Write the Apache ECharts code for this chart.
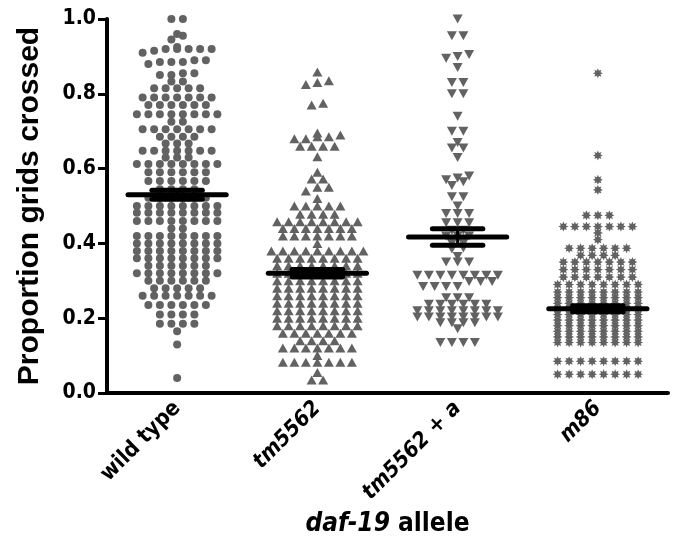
<!DOCTYPE html>
<html lang="en">
<head>
  <meta charset="UTF-8">
  <title>daf-19 grids crossed</title>
  <script src="https://cdn.jsdelivr.net/npm/echarts@6/dist/echarts.min.js"></script>
  <style>
    html, body { margin: 0; padding: 0; background: #fff; }
    #main { width: 681px; height: 548px; }
  </style>
</head>
<body>
  <div id="main"></div>
  <script>
    // categories and values
    var alleles = ['wild type', 'tm5562', 'tm5562 + a', 'm86'];

    var wildType = [
      1.0, 1.0,
      0.96, 0.955, 0.945,
      0.925, 0.92, 0.92, 0.92, 0.92, 0.92, 0.915, 0.91,
      0.89, 0.885, 0.885, 0.89, 0.88, 0.885,
      0.855, 0.85, 0.85, 0.855,
      0.833, 0.833,
      0.815, 0.815, 0.815, 0.815, 0.815,
      0.79, 0.79, 0.79, 0.79, 0.79, 0.79, 0.79,
      0.77, 0.77, 0.77, 0.77, 0.77, 0.77,
      0.745, 0.745, 0.745, 0.745, 0.745, 0.745, 0.745, 0.745,
      0.725, 0.725,
      0.705, 0.705, 0.705, 0.705, 0.705, 0.705, 0.705,
      0.685, 0.685, 0.685, 0.685,
      0.667, 0.667, 0.667,
      0.648, 0.648, 0.648, 0.648, 0.648, 0.648, 0.648,
      0.63, 0.63, 0.63,
      0.612, 0.612, 0.612, 0.612, 0.612, 0.612, 0.612, 0.612,
      0.59, 0.59, 0.59, 0.59, 0.59, 0.59,
      0.567, 0.567, 0.567, 0.567, 0.567, 0.567,
      0.545, 0.545, 0.545, 0.545,
      0.522, 0.522, 0.522, 0.522, 0.522, 0.522,
      0.50, 0.50, 0.50, 0.50, 0.50, 0.50, 0.50, 0.50,
      0.482, 0.482, 0.482, 0.482, 0.482, 0.482, 0.482, 0.482,
      0.46, 0.46, 0.46, 0.46, 0.46, 0.46, 0.46, 0.46,
      0.44, 0.44,
      0.42, 0.42, 0.42, 0.42, 0.42, 0.42, 0.42, 0.42,
      0.40, 0.40, 0.40, 0.40, 0.40, 0.40, 0.40, 0.40,
      0.38, 0.38, 0.38, 0.38, 0.38, 0.38, 0.38, 0.38,
      0.36, 0.36, 0.36, 0.36, 0.36, 0.36, 0.36, 0.36,
      0.34, 0.34, 0.34, 0.34, 0.34, 0.34,
      0.32, 0.32, 0.32, 0.32, 0.32, 0.32, 0.32, 0.32,
      0.30, 0.30, 0.30, 0.30, 0.30, 0.30,
      0.28, 0.28, 0.28, 0.28, 0.28,
      0.26, 0.26, 0.26, 0.26, 0.26, 0.26, 0.26,
      0.235, 0.235, 0.235, 0.235, 0.235, 0.235,
      0.21, 0.21, 0.21, 0.21,
      0.185, 0.185, 0.185, 0.185,
      0.165, 0.13, 0.04
    ];

    var tm5562 = [
      0.858,
      0.835, 0.83, 0.825,
      0.775, 0.77,
      0.695, 0.69, 0.685, 0.685, 0.68, 0.68,
      0.66, 0.66, 0.66, 0.66,
      0.632, 0.59, 0.572, 0.572,
      0.55, 0.55, 0.54, 0.52,
      0.50, 0.50, 0.50, 0.50, 0.50,
      0.478, 0.478, 0.478, 0.478,
      0.458, 0.458, 0.458, 0.458, 0.458, 0.458, 0.458, 0.458,
      0.44, 0.44, 0.44, 0.44, 0.44, 0.44, 0.44,
      0.42, 0.42, 0.42, 0.42, 0.42, 0.42, 0.42,
      0.40,
      0.38, 0.38, 0.38, 0.38, 0.38, 0.38, 0.38, 0.38, 0.38,
      0.36, 0.36, 0.36, 0.36, 0.36, 0.36, 0.36, 0.36,
      0.34, 0.34, 0.34, 0.34, 0.34, 0.34, 0.34, 0.34,
      0.32, 0.32, 0.32, 0.32, 0.32, 0.32, 0.32, 0.32,
      0.30, 0.30, 0.30, 0.30, 0.30, 0.30, 0.30, 0.30,
      0.28, 0.28, 0.28, 0.28, 0.28, 0.28, 0.28, 0.28,
      0.26, 0.26, 0.26, 0.26, 0.26, 0.26, 0.26, 0.26,
      0.24, 0.24, 0.24, 0.24, 0.24, 0.24, 0.24, 0.24,
      0.22, 0.22, 0.22, 0.22, 0.22, 0.22, 0.22, 0.22,
      0.20, 0.20, 0.20, 0.20, 0.20, 0.20, 0.20, 0.20,
      0.18, 0.18, 0.18, 0.18, 0.18, 0.18, 0.18, 0.18,
      0.16, 0.16, 0.16, 0.16, 0.16, 0.16, 0.16,
      0.14, 0.14, 0.14, 0.14,
      0.12, 0.12, 0.12, 0.12, 0.12, 0.12, 0.12,
      0.10,
      0.082, 0.082, 0.082, 0.082, 0.082, 0.082, 0.082,
      0.055, 0.035, 0.035
    ];

    var tm5562a = [
      1.0,
      0.955, 0.955,
      0.905, 0.90, 0.895,
      0.87,
      0.83, 0.83,
      0.80, 0.80,
      0.74,
      0.70, 0.70,
      0.67, 0.655, 0.655,
      0.63,
      0.58, 0.575, 0.57, 0.565,
      0.555,
      0.525, 0.525,
      0.50,
      0.48, 0.48, 0.48,
      0.455, 0.455, 0.455,
      0.435, 0.435,
      0.42, 0.42, 0.42,
      0.40, 0.40,
      0.388, 0.385,
      0.365,
      0.35, 0.35, 0.35,
      0.315, 0.315, 0.315, 0.315, 0.315, 0.315, 0.315, 0.315,
      0.298, 0.298, 0.298,
      0.285, 0.285, 0.285, 0.285,
      0.255, 0.255, 0.255,
      0.237, 0.237, 0.237, 0.237, 0.237, 0.237,
      0.22, 0.22, 0.22, 0.22, 0.22, 0.22, 0.22, 0.22,
      0.203, 0.203, 0.203, 0.203, 0.203, 0.203, 0.203, 0.203,
      0.188, 0.188, 0.188, 0.188,
      0.172,
      0.135, 0.135, 0.135, 0.135
    ];

    var m86 = [
      0.855, 0.635, 0.57, 0.543,
      0.475, 0.475, 0.475,
      0.445, 0.445, 0.445, 0.445, 0.445, 0.445, 0.445,
      0.428, 0.41,
      0.387, 0.387, 0.387, 0.387, 0.387, 0.387,
      0.368, 0.368, 0.368, 0.368,
      0.35, 0.35, 0.35, 0.35, 0.35, 0.35, 0.35,
      0.33, 0.33, 0.33, 0.33, 0.33, 0.33, 0.33,
      0.31, 0.31, 0.31, 0.31, 0.31, 0.31, 0.31,
      0.29, 0.29, 0.29, 0.29, 0.29, 0.29, 0.29, 0.29,
      0.27, 0.27, 0.27, 0.27, 0.27, 0.27, 0.27, 0.27,
      0.255, 0.255, 0.255, 0.255, 0.255, 0.255, 0.255, 0.255,
      0.24, 0.24, 0.24, 0.24, 0.24, 0.24, 0.24, 0.24,
      0.225, 0.225, 0.225, 0.225, 0.225, 0.225, 0.225, 0.225,
      0.21, 0.21, 0.21, 0.21, 0.21, 0.21, 0.21, 0.21,
      0.195, 0.195, 0.195, 0.195, 0.195, 0.195, 0.195, 0.195,
      0.18, 0.18, 0.18, 0.18, 0.18, 0.18, 0.18, 0.18,
      0.165, 0.165, 0.165, 0.165, 0.165, 0.165, 0.165, 0.165,
      0.15, 0.15, 0.15, 0.15, 0.15, 0.15, 0.15, 0.15,
      0.135, 0.135, 0.135, 0.135, 0.135, 0.135, 0.135, 0.135,
      0.085, 0.085, 0.085, 0.085, 0.085, 0.085, 0.085, 0.085,
      0.05, 0.05, 0.05, 0.05, 0.05, 0.05, 0.05, 0.05
    ];

    // mean and SEM
    var means = [0.53, 0.32, 0.417, 0.225];
    var sems = [0.012, 0.01, 0.022, 0.008];

    var yTicks = [0, 0.2, 0.4, 0.6, 0.8, 1.0];

    // layout
    var GRID = { left: 107, right: 13, top: 19, bottom: 155 };
    var PX_X = (681 - GRID.left - GRID.right) / alleles.length; // px per category
    var PX_Y = 548 - GRID.top - GRID.bottom;                     // px per 1.0
    var SX = 11.5, SY = 5;
    var GREY = '#626262';

    // column scatter: points closer than SY px in y share a row, rows are centred
    function swarm(values, center) {
      var sorted = values.slice().sort(function (a, b) { return a - b; });
      var out = [];
      var i = 0;
      while (i < sorted.length) {
        var j = i;
        while (j + 1 < sorted.length && (sorted[j + 1] - sorted[i]) * PX_Y < SY) j++;
        var n = j - i + 1;
        for (var k = 0; k < n; k++) {
          var off = (k - (n - 1) / 2) * SX;
          out.push([center + off / PX_X, sorted[i + k]]);
        }
        i = j + 1;
      }
      return out;
    }

    function starPath(n, r1, r2) {
      var d = '';
      for (var i = 0; i < 2 * n; i++) {
        var r = i % 2 ? r2 : r1;
        var a = Math.PI * i / n - Math.PI / 2;
        d += (i ? 'L' : 'M') + (50 + r * Math.cos(a)).toFixed(1) + ' ' + (50 + r * Math.sin(a)).toFixed(1);
      }
      return 'path://' + d + 'Z';
    }

    var groups = [wildType, tm5562, tm5562a, m86];
    var symbols = ['circle', 'triangle', 'triangle', starPath(8, 50, 28)];
    var sizes = [8, [10, 9], [10, 9], 10];
    var rotates = [0, 0, 180, 0];

    var myChart = echarts.init(document.getElementById('main'));

    var series = groups.map(function (g, i) {
      return {
        type: 'scatter',
        xAxisIndex: 1,
        data: swarm(g, i),
        symbol: symbols[i],
        symbolSize: sizes[i],
        symbolRotate: rotates[i],
        itemStyle: { color: GREY, opacity: 1 },
        silent: true,
        z: 2
      };
    });

    series.push({
      type: 'custom',
      xAxisIndex: 1,
      data: means.map(function (m, i) { return [i, m, sems[i]]; }),
      renderItem: function (params, api) {
        var x = api.value(0), m = api.value(1), s = api.value(2);
        var c = api.coord([x, m]);
        var hi = api.coord([x, m + s]);
        var lo = api.coord([x, m - s]);
        var w = api.size([1, 0])[0];
        var st = { stroke: '#000', lineWidth: 5, lineCap: 'round' };
        return {
          type: 'group',
          children: [
            { type: 'line', shape: { x1: c[0] - 0.35 * w, y1: c[1], x2: c[0] + 0.35 * w, y2: c[1] }, style: st },
            { type: 'line', shape: { x1: c[0] - 0.18 * w, y1: hi[1], x2: c[0] + 0.18 * w, y2: hi[1] }, style: st },
            { type: 'line', shape: { x1: c[0] - 0.18 * w, y1: lo[1], x2: c[0] + 0.18 * w, y2: lo[1] }, style: st },
            { type: 'line', shape: { x1: c[0], y1: hi[1], x2: c[0], y2: lo[1] }, style: { stroke: '#000', lineWidth: 3 } }
          ]
        };
      },
      silent: true,
      z: 5
    });

    var option = {
      backgroundColor: '#fff',
      animation: false,
      grid: GRID,
      xAxis: [{
        type: 'category',
        data: alleles,
        name: '{i|daf-19} allele',
        nameLocation: 'middle',
        nameGap: 118,
        nameTextStyle: {
          fontFamily: 'DejaVu Sans Condensed',
          fontWeight: 'bold',
          fontSize: 26,
          color: '#000',
          rich: {
            i: { fontFamily: 'DejaVu Sans Condensed', fontWeight: 'bold', fontStyle: 'italic', fontSize: 26, color: '#000' }
          }
        },
        axisLine: { lineStyle: { color: '#000', width: 4 } },
        axisTick: { alignWithLabel: true, length: 9, lineStyle: { color: '#000', width: 3 } },
        axisLabel: {
          rotate: 45,
          margin: 12,
          formatter: function (v) { return v === 'wild type' ? '{n|' + v + '}' : '{i|' + v + '}'; },
          rich: {
            n: { fontFamily: 'DejaVu Sans Condensed', fontWeight: 'bold', fontSize: 22, color: '#000' },
            i: { fontFamily: 'DejaVu Sans Condensed', fontWeight: 'bold', fontStyle: 'italic', fontSize: 22, color: '#000' }
          }
        }
      }, {
        type: 'value',
        min: -0.5,
        max: 3.5,
        show: false
      }],
      yAxis: {
        type: 'value',
        min: yTicks[0],
        max: yTicks[yTicks.length - 1],
        interval: 0.2,
        name: 'Proportion grids crossed',
        nameLocation: 'middle',
        nameGap: 62,
        nameTextStyle: { fontFamily: 'Liberation Sans', fontWeight: 'bold', fontSize: 30, color: '#000' },
        splitLine: { show: false },
        axisLine: { show: true, onZero: false, lineStyle: { color: '#000', width: 4 } },
        axisTick: { show: true, length: 9, lineStyle: { color: '#000', width: 3 } },
        axisLabel: {
          margin: 11,
          fontFamily: 'DejaVu Sans Condensed',
          fontWeight: 'bold',
          fontSize: 21,
          color: '#000',
          formatter: function (v) { return v.toFixed(1); }
        }
      },
      series: series
    };

    myChart.setOption(option);
  </script>
</body>
</html>
